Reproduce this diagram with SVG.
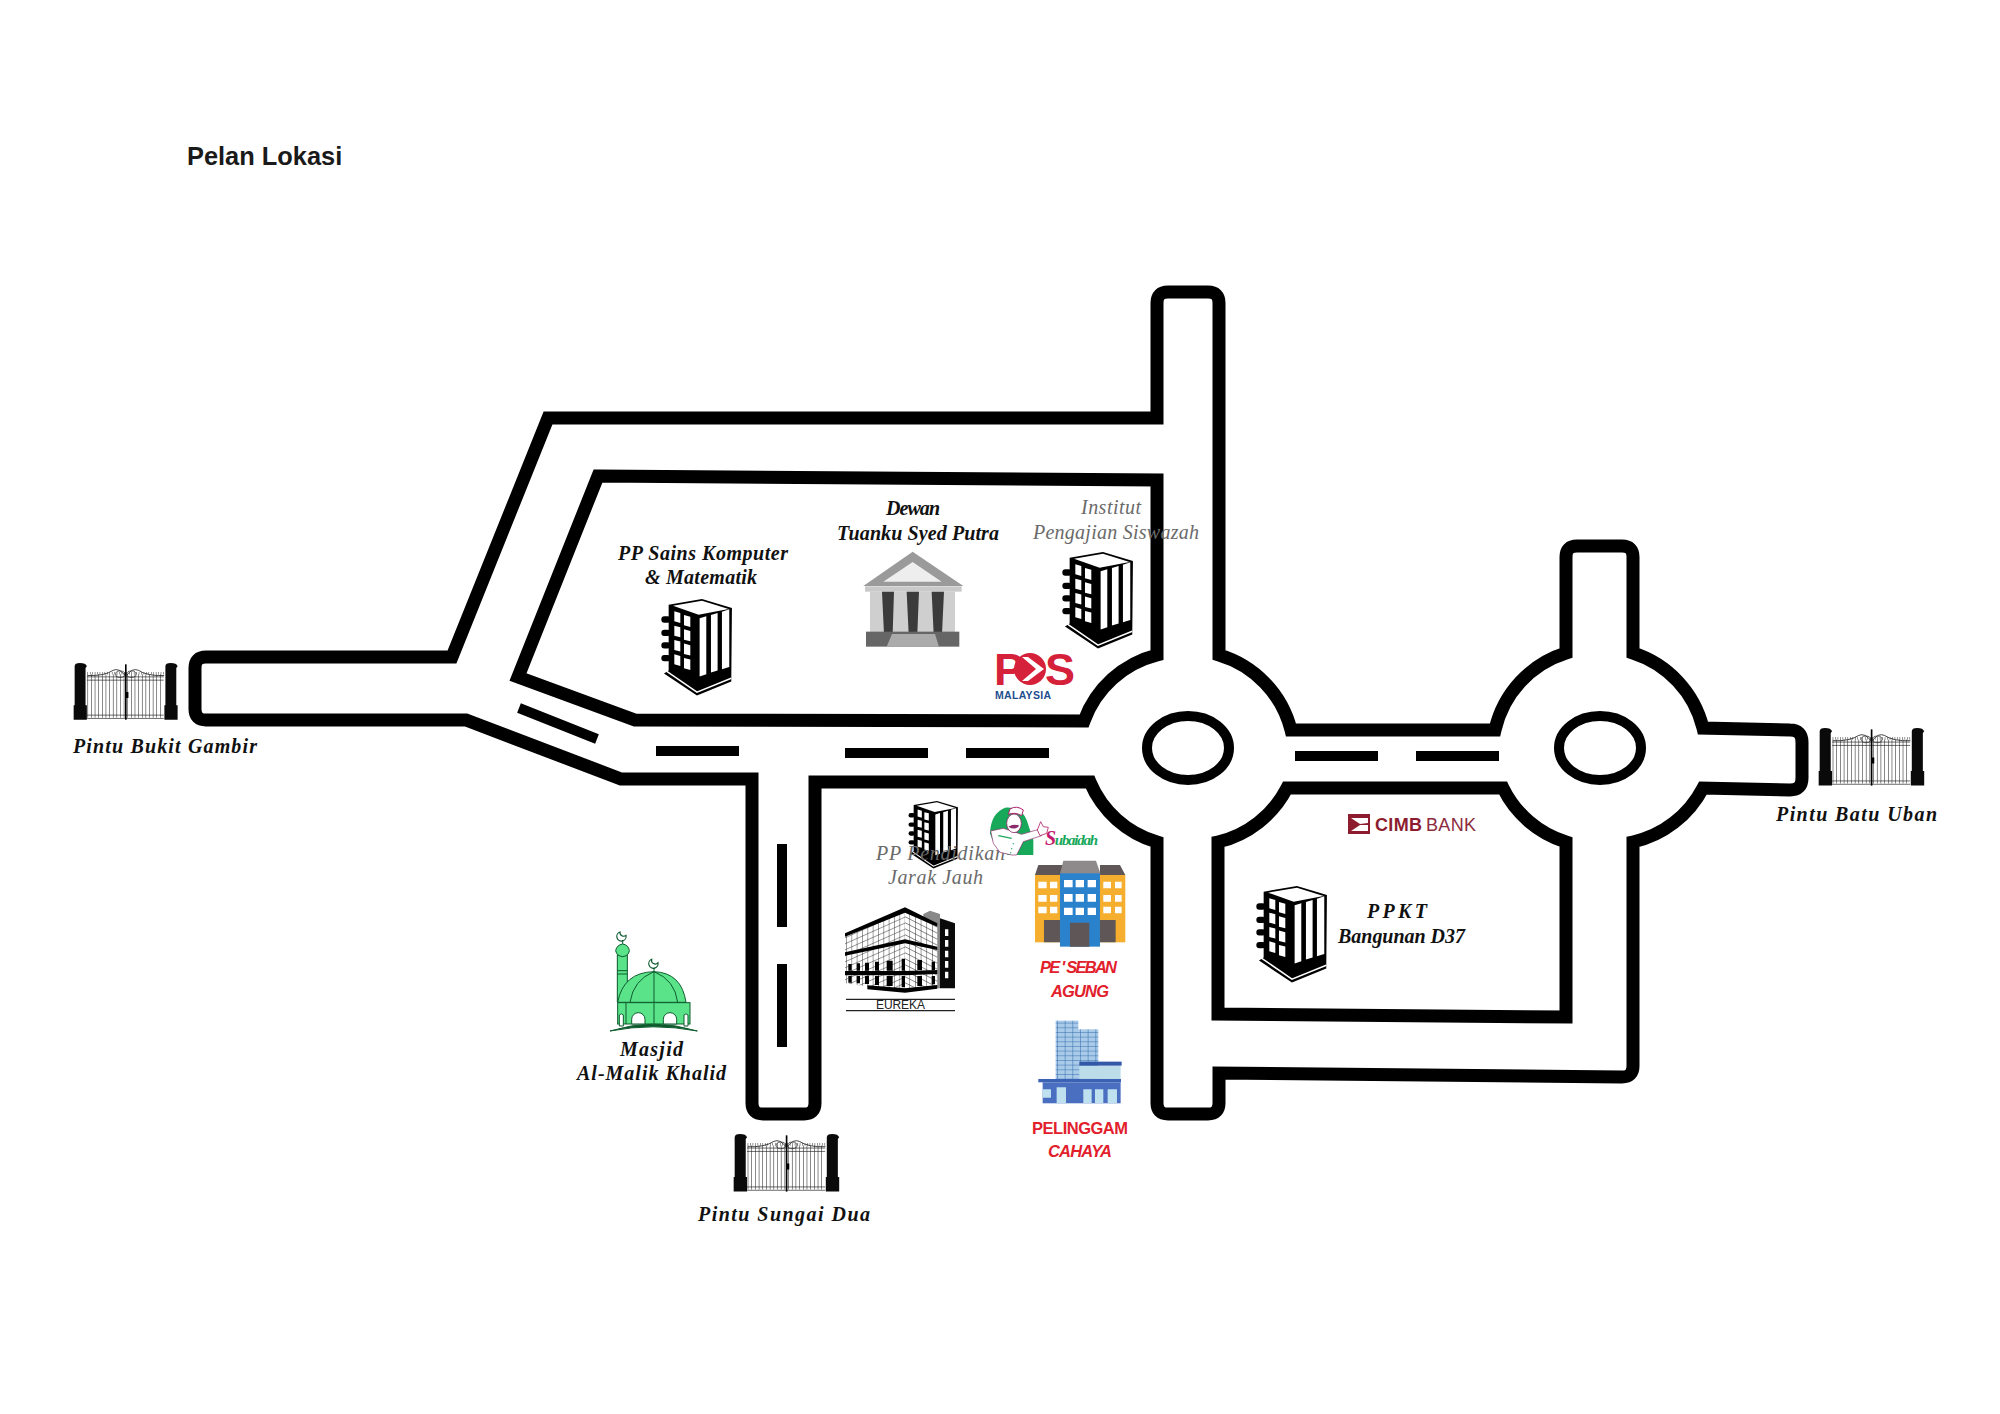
<svg xmlns="http://www.w3.org/2000/svg" xmlns:xlink="http://www.w3.org/1999/xlink" width="2000" height="1414" viewBox="0 0 2000 1414">
<style>
.road{fill:none;stroke:#000;stroke-width:13;stroke-linejoin:miter;stroke-miterlimit:6}
.dash{stroke:#000;stroke-width:10;fill:none}
.ring{fill:none;stroke:#000;stroke-width:10}
.sc{font-family:"Liberation Serif","Times New Roman",serif;font-style:italic;font-weight:700;font-size:20px;fill:#111}
.gr{fill:#6a6a6a;font-weight:400}
.red{font-family:"Liberation Sans",Arial,sans-serif;font-weight:700;font-size:16.5px;fill:#e2202c}
.it{font-style:italic}
</style>
<defs>
<g id="tower">
<path d="M20 17L120 0L210 27L208 248L105 290L6 224L20 215Z" fill="#000"/>
<rect x="-2" y="52" width="28" height="19" rx="9"/><rect x="-2" y="92" width="28" height="19" rx="9"/><rect x="-2" y="130" width="28" height="19" rx="9"/><rect x="-2" y="168" width="28" height="19" rx="9"/>
<path d="M33 20L120 5L200 30L110 47Z" fill="#fff"/>
<g fill="#fff">
<path d="M37 37L55 42V72L37 67Z"/><path d="M66 48L85 53V84L66 79Z"/>
<path d="M37 80L55 85V115L37 110Z"/><path d="M66 91L85 96V127L66 122Z"/>
<path d="M37 123L55 128V158L37 153Z"/><path d="M66 134L85 139V170L66 165Z"/>
<path d="M37 166L55 171V201L37 196Z"/><path d="M66 177L85 182V213L66 208Z"/>
<path d="M113 58L133 52V226L113 233Z"/><path d="M147 48L167 42V215L147 221Z"/><path d="M180 38L202 31V204L180 211Z"/>
</g>
<path d="M10 214L105 280L208 238" fill="none" stroke="#fff" stroke-width="4.5"/>
</g>
<g id="gate">
<g id="post"><path d="M5 10Q5 0 21 0Q39 0 42 10L38 15V128L42 128V172H2V128L5 128V15Z" fill="#0a0a0a"/></g>
<use xlink:href="#post" href="#post" transform="translate(275,0)"/>
<line x1="44" x2="275" y1="100" y2="100" stroke="#222" stroke-width="132" stroke-dasharray="1.6 9.4"/>
<line x1="44" x2="275" y1="31" y2="31" stroke="#222" stroke-width="8" stroke-dasharray="1.4 6"/>
<path d="M42 42H275M42 52H275M42 158H275M42 168H275" stroke="#222" stroke-width="2" fill="none"/>
<path d="M44 38Q95 40 122 22Q140 14 158 38M276 38Q225 40 198 22Q180 14 162 38" stroke="#222" stroke-width="2.5" fill="none"/>
<ellipse cx="143" cy="34" rx="14" ry="10" fill="none" stroke="#222" stroke-width="2"/><ellipse cx="177" cy="34" rx="14" ry="10" fill="none" stroke="#222" stroke-width="2"/>
<line x1="160" x2="160" y1="4" y2="172" stroke="#000" stroke-width="5"/>
<rect x="159" y="88" width="9" height="18" fill="#000"/>
</g>
<pattern id="gridL" width="16" height="18" patternUnits="userSpaceOnUse" patternTransform="skewY(-24)"><rect width="16" height="18" fill="#fff"/><path d="M0 0H16M0 0V18" stroke="#111" stroke-width="2.5"/></pattern>
<pattern id="gridR" width="17" height="18" patternUnits="userSpaceOnUse" patternTransform="skewY(27)"><rect width="17" height="18" fill="#fff"/><path d="M0 0H17M0 0V18" stroke="#111" stroke-width="2.5"/></pattern>
<pattern id="gridB" width="23" height="14" patternUnits="userSpaceOnUse"><rect width="23" height="14" fill="#a9cbe9"/><path d="M0 0H23M0 0V14" stroke="#2f68a8" stroke-width="3"/></pattern>
</defs>
<rect width="2000" height="1414" fill="#fff"/>
<text id="title" x="187" y="165" font-family="'Liberation Sans',Arial,sans-serif" font-weight="700" font-size="25.4" fill="#1a1a1a">Pelan Lokasi</text>

<g id="connectors">
<path class="road" d="M206 657L452 657L548 418L1157 418L1157 303Q1157 292 1168 292L1208 292Q1219 292 1219 303L1219 655A105 105 0 0 1 1291 730L1495 730A105 105 0 0 1 1566 653L1566 557Q1566 546 1577 546L1622 546Q1633 546 1633 557L1633 653A105 105 0 0 1 1703 728L1790 730Q1802 730 1802 742L1802 778Q1802 790 1790 790L1703 788A105 105 0 0 1 1633 842L1633 1066Q1633 1077 1622 1077L1219 1073L1219 1103Q1219 1114 1208 1114L1168 1114Q1157 1114 1157 1103L1157 842A105 105 0 0 1 1090 782L815 782L815 1103Q815 1114 804 1114L763 1114Q752 1114 752 1103L752 779L621 779L466 720L206 720Q195 720 195 709L195 668Q195 657 206 657Z"/>
<path class="road" d="M598 476L1157 480L1157 655A105 105 0 0 0 1084 721L635 720L518 677Z"/>
<path class="road" d="M1218 842A105 105 0 0 0 1287 788L1503 788A105 105 0 0 0 1566 842L1566 1017L1218 1014Z"/>
<ellipse class="ring" cx="1188" cy="748" rx="41" ry="32"/>
<ellipse class="ring" cx="1600" cy="748" rx="41" ry="32"/>
<path class="dash" d="M519 708L597 739M656 751H739M845 753H928M966 753H1049M782 844V927M782 964V1047M1295 756H1378M1416 756H1499"/>
</g>

<g id="gate-bukit-gambir"><use xlink:href="#gate" href="#gate" transform="translate(73,663) scale(.33)"/>
<text class="sc" x="73" y="753" textLength="184">Pintu Bukit Gambir</text></g>
<g id="gate-batu-uban"><use xlink:href="#gate" href="#gate" transform="translate(1818,728) scale(.335)"/>
<text class="sc" x="1776" y="821" textLength="161">Pintu Batu Uban</text></g>
<g id="gate-sungai-dua"><use xlink:href="#gate" href="#gate" transform="translate(733,1134) scale(.335)"/>
<text class="sc" x="698" y="1221" textLength="172">Pintu Sungai Dua</text></g>

<g id="pp-sains"><use xlink:href="#tower" href="#tower" transform="translate(662,599) scale(.333)"/>
<text class="sc" x="618" y="560" textLength="170">PP Sains Komputer</text>
<text class="sc" x="645" y="584" textLength="112">&amp; Matematik</text></g>

<g id="dewan">
<text class="sc" x="886" y="515" textLength="54">Dewan</text>
<text class="sc" x="837" y="540" textLength="162">Tuanku Syed Putra</text>
<g transform="translate(820,490) scale(.3333)">
<path d="M278 185L130 288H430Z" fill="#9a9a9a"/><path d="M278 216L190 275H365Z" fill="#eee"/>
<rect x="135" y="289" width="290" height="16" fill="#c9c9c9"/>
<rect x="150" y="305" width="255" height="122" fill="#cfcfcf"/>
<path d="M186 305H222L218 432H192ZM260 305H297L292 432H266ZM335 305H372L366 432H341Z" fill="#3b3b3b"/>
<rect x="138" y="425" width="280" height="45" fill="#666"/>
<path d="M216 432H345L357 470H200Z" fill="#ababab"/>
</g></g>

<g id="institut"><use xlink:href="#tower" href="#tower" transform="translate(1063,552) scale(.333)"/>
<text class="sc gr" x="1081" y="514" textLength="60">Institut</text>
<text class="sc gr" x="1033" y="539" textLength="166">Pengajian Siswazah</text></g>

<g id="pos">
<text x="994" y="685" font-family="'Liberation Sans',Arial,sans-serif" font-weight="700" font-size="45" fill="#d5213a">P</text>
<circle cx="1030" cy="669" r="16" fill="#d5213a"/>
<path d="M1022 657L1036 669L1022 681L1028 681L1044 669L1028 657Z" fill="#fff"/>
<text x="1045" y="685" font-family="'Liberation Sans',Arial,sans-serif" font-weight="700" font-size="45" fill="#d5213a">S</text>
<text x="995" y="699" font-family="'Liberation Sans',Arial,sans-serif" font-weight="700" font-size="10.5" fill="#1d4f8f" textLength="56">MALAYSIA</text>
</g>

<g id="cimb">
<rect x="1348" y="814" width="22" height="20" fill="#8c1c2e"/>
<path d="M1351 818H1368V823L1360 824ZM1351 831L1360 825L1368 825V831Z" fill="#fff"/>
<text x="1375" y="831" font-family="'Liberation Sans',Arial,sans-serif" font-weight="700" font-size="18" fill="#8c1c2e" textLength="47">CIMB</text>
<text x="1426" y="831" font-family="'Liberation Sans',Arial,sans-serif" font-size="18" fill="#8c2a3e" textLength="50">BANK</text>
</g>

<g id="ppkt"><use xlink:href="#tower" href="#tower" transform="translate(1257,886) scale(.333)"/>
<text class="sc" x="1367" y="918" textLength="60">PPKT</text>
<text class="sc" x="1338" y="943" textLength="127">Bangunan D37</text></g>

<g id="pp-pendidikan"><use xlink:href="#tower" href="#tower" transform="translate(909,801) scale(.233)"/>
<text class="sc gr" x="876" y="860" textLength="129">PP Pendidikan</text>
<text class="sc gr" x="888" y="884" textLength="95">Jarak Jauh</text></g>

<g id="subaidah">
<g transform="translate(980,795) scale(.3333)">
<path d="M30 115Q32 55 75 38Q125 35 140 75L160 135V180H85Q45 165 30 115Z" fill="#18a85a"/>
<path d="M32 108L70 100L125 118L180 102L185 122L130 140L110 180H95L60 172L40 145Z" fill="#fff" stroke="#8a2a6a" stroke-width="2"/>
<path d="M172 105L182 80L190 95L205 97L200 115L180 122Z" fill="#fff" stroke="#b0206a" stroke-width="2.5"/>
<ellipse cx="102" cy="85" rx="22" ry="28" fill="#fff" stroke="#8a2a6a" stroke-width="2.5"/>
<path d="M85 58L90 42Q110 30 130 45L125 62Q105 50 85 58Z" fill="#fff" stroke="#b0206a" stroke-width="3"/>
<path d="M85 95Q100 85 118 92Q105 108 85 95Z" fill="#8a2a6a"/>
<path d="M55 122L95 130" stroke="#18a85a" stroke-width="4"/>
<path d="M100 145v3M95 160v3M92 172v3" stroke="#18a85a" stroke-width="4"/>
</g>
<text x="1045" y="845" font-family="'Liberation Serif',serif" font-style="italic" font-weight="700" font-size="15" fill="#18a85a" textLength="53"><tspan fill="#c2186f" font-size="20">S</tspan>ubaidah</text>
</g>

<g id="peseban">
<g transform="translate(850,780) scale(.3333)">
<path d="M555 285L565 255H640V285ZM750 285V255H810L826 285Z" fill="#5f5757"/>
<rect x="555" y="285" width="271" height="202" fill="#f5ae2e"/>
<path d="M640 242H738L752 282H630Z" fill="#8e8a8c"/>
<rect x="630" y="280" width="120" height="220" fill="#2b82cc"/>
<path d="M565 305h25v20h-25zM600 305h22v20h-22zM565 345h25v20h-25zM600 345h22v20h-22zM565 380h25v20h-25zM600 380h22v20h-22zM760 305h23v20h-23zM795 305h20v20h-20zM760 345h23v20h-23zM795 345h20v20h-20zM760 380h23v20h-23zM795 380h20v20h-20zM642 300h26v22h-26zM677 300h25v22h-25zM713 300h25v22h-25zM642 342h26v23h-26zM677 342h25v23h-25zM713 342h25v23h-25zM642 383h26v22h-26zM677 383h25v22h-25zM713 383h25v22h-25z" fill="#fff"/>
<path d="M582 420h48v67h-48zM660 428h58v72h-58zM750 420h47v67h-47z" fill="#5f5757"/>
</g>
<text class="red it" x="1040" y="973" textLength="77">PE ' SEBAN</text>
<text class="red it" x="1051" y="997" textLength="58">AGUNG</text>
</g>

<g id="pelinggam">
<g transform="translate(850,780) scale(.3333)">
<rect x="617" y="722" width="68" height="175" fill="url(#gridB)"/>
<rect x="675" y="748" width="70" height="150" fill="url(#gridB)"/>
<rect x="688" y="857" width="124" height="40" fill="#bcdcea"/>
<rect x="688" y="845" width="127" height="12" fill="#3358a8"/>
<rect x="565" y="897" width="248" height="10" fill="#3b62b5"/>
<rect x="578" y="907" width="234" height="63" fill="#4a6fc0"/>
<path d="M620 922h28v48h-28zM700 928h25v42h-25zM735 928h25v42h-25zM773 928h28v42h-28zM578 928h25v25h-25z" fill="#bfe0ee"/>
</g>
<text class="red" x="1032" y="1134" textLength="96">PELINGGAM</text>
<text class="red it" x="1048" y="1157" textLength="64">CAHAYA</text>
</g>

<g id="eureka">
<g transform="translate(830,890) scale(.3333)">
<path d="M45 135L225 55V305L115 290L45 280Z" fill="url(#gridL)"/>
<path d="M225 55L322 105V295L225 305Z" fill="url(#gridR)"/>
<path d="M280 72L300 62L330 72V295H322V105L280 82Z" fill="#888"/>
<path d="M330 85L375 100V295H330Z" fill="#0a0a0a"/>
<path d="M345 118h10v20h-10zM345 150h10v20h-10zM345 182h10v20h-10zM345 213h10v20h-10zM345 245h10v20h-10z" fill="#fff"/>
<path d="M45 130L225 52L322 100V110L225 68L45 140ZM45 187L225 148L322 170V180L225 160L45 197ZM45 243H225L322 240V252L225 256H45ZM112 286L225 295L322 285V296L225 308L112 298Z" fill="#000"/>
<path d="M55 222h10v20h-10zM80 220h10v22h-10zM105 218h12v24h-12zM135 215h12v27h-12zM170 212h18v30h-18zM215 206h10v36h-10zM262 210h14v30h-14zM305 215h10v25h-10zM55 258h10v20h-10zM80 258h10v22h-10zM105 258h12v24h-12zM135 258h12v27h-12zM170 258h18v30h-18zM215 258h10v34h-10zM262 258h14v30h-14zM305 258h10v25h-10z" fill="#000"/>
<path d="M48 328H375M48 362H375" stroke="#222" stroke-width="4" fill="none"/>
</g>
<text x="876" y="1009" font-family="'Liberation Sans',Arial,sans-serif" font-size="12" fill="#222" textLength="49">EUREKA</text>
</g>

<g id="masjid">
<g transform="translate(580,900) scale(.3333)" stroke="#0c5a2c" stroke-width="3" fill="#5be38a">
<rect x="112" y="165" width="30" height="140"/>
<path d="M107 152Q110 135 128 132Q146 135 148 152Q146 168 128 170Q110 168 107 152Z"/>
<path d="M112 212H142M112 222H142" fill="none"/>
<path d="M113 307Q130 217 222 215Q305 218 318 307Z"/>
<path d="M222 215V370M150 307Q160 240 222 215Q285 240 293 307" fill="none"/>
<rect x="113" y="308" width="217" height="64"/>
<path d="M222 310V370M138 308V372" fill="none"/>
<path d="M155 372V358A20 20 0 0 1 195 358V372ZM250 372V358A20 20 0 0 1 290 358V372Z" fill="#fff"/>
<path d="M118 378V345Q124 338 130 345V378ZM312 378V345Q318 338 324 345V378Z" fill="#fff"/>
<path d="M90 393Q220 352 352 393Q220 368 90 393Z" fill="#0c5a2c"/>
<path d="M120 96A14 14 0 1 0 138 106A11 11 0 0 1 120 96ZM215 178A14 14 0 1 0 234 188A11 11 0 0 1 215 178Z" fill="none" stroke-width="3.5"/>
<path d="M128 120V132M222 203V216" fill="none"/>
</g>
<text class="sc" x="620" y="1056" textLength="63">Masjid</text>
<text class="sc" x="577" y="1080" textLength="149">Al-Malik Khalid</text>
</g>
</svg>
